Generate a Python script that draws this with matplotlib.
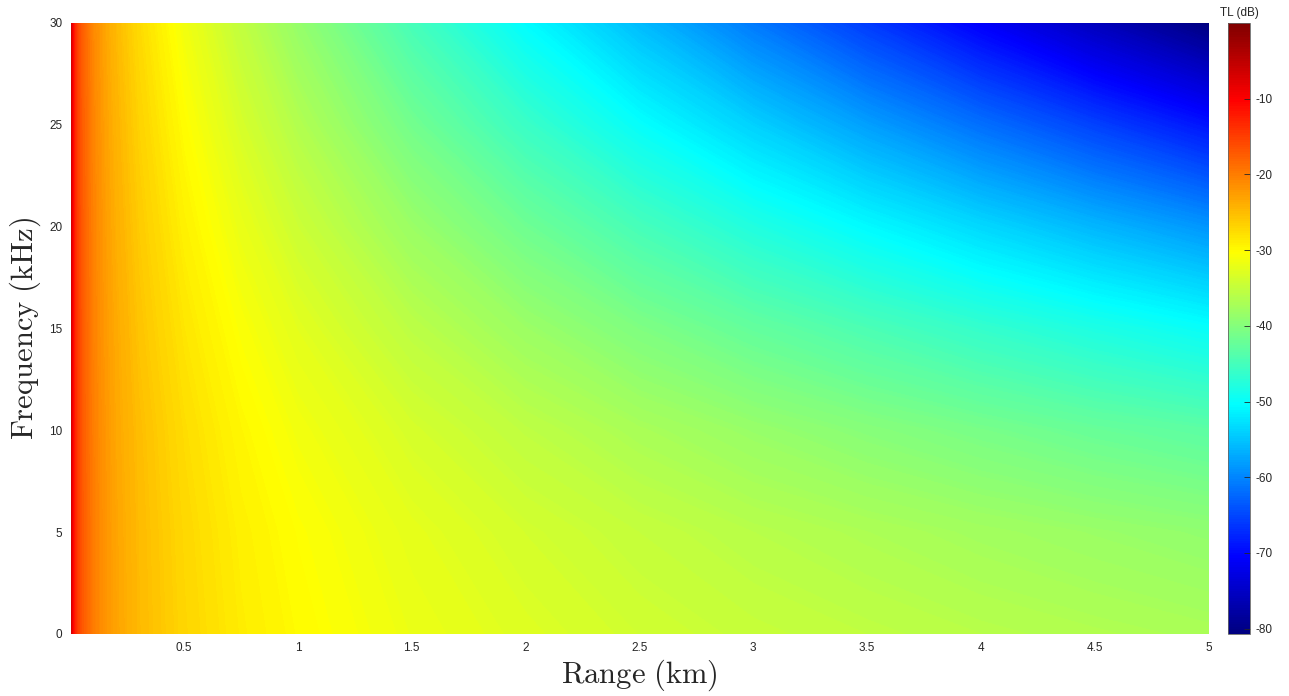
import numpy as np
import matplotlib
matplotlib.use("Agg")
import matplotlib.pyplot as plt
from matplotlib.colors import LinearSegmentedColormap, Normalize
from matplotlib.cm import ScalarMappable
from matplotlib.ticker import FormatStrFormatter

plt.rcParams["font.family"] = ["Liberation Sans", "DejaVu Sans"]
plt.rcParams["mathtext.fontset"] = "cm"
plt.rcParams["axes.unicode_minus"] = False

# range samples (km) and frequency samples (kHz)
range_km = [0.001, 0.003, 0.006, 0.01, 0.02, 0.03, 0.05, 0.1, 0.15, 0.2, 0.3,
            0.5, 0.75, 1, 1.5, 2, 2.5, 3, 3.5, 4, 4.5, 5]
freq_khz = [0, 5, 10, 15, 20, 25, 30]

# transmission loss (dB), one row per frequency
tl_db = [
    [0, -4.8, -7.8, -10.0, -13.0, -14.8, -17.0, -20.0, -21.8, -23.0, -24.8,
     -27.0, -28.8, -30.0, -31.8, -33.0, -34.0, -34.8, -35.4, -36.0, -36.5, -37.0],
    [0, -4.8, -7.8, -10.0, -13.0, -14.8, -17.0, -20.0, -21.8, -23.1, -24.9,
     -27.2, -29.1, -30.4, -32.4, -33.8, -35.0, -36.0, -36.8, -37.6, -38.3, -39.0],
    [0, -4.8, -7.8, -10.0, -13.0, -14.8, -17.1, -20.1, -21.9, -23.3, -25.1,
     -27.6, -29.7, -31.3, -33.6, -35.5, -37.1, -38.5, -39.8, -41.0, -42.2, -43.2],
    [0, -4.8, -7.8, -10.0, -13.1, -14.8, -17.1, -20.3, -22.2, -23.5, -25.6,
     -28.3, -30.7, -32.6, -35.7, -38.2, -40.5, -42.6, -44.5, -46.4, -48.2, -50.0],
    [0, -4.8, -7.8, -10.0, -13.1, -14.9, -17.2, -20.4, -22.4, -23.9, -26.1,
     -29.2, -32.0, -34.4, -38.3, -41.7, -44.9, -47.9, -50.7, -53.5, -56.2, -58.8],
    [0, -4.8, -7.8, -10.1, -13.1, -15.0, -17.3, -20.6, -22.7, -24.3, -26.7,
     -30.2, -33.6, -36.4, -41.4, -45.9, -50.1, -54.1, -58.0, -61.8, -65.5, -69.2],
    [0, -4.8, -7.8, -10.1, -13.2, -15.0, -17.4, -20.9, -23.1, -24.8, -27.4,
     -31.4, -35.3, -38.7, -44.9, -50.5, -55.8, -61.0, -66.0, -71.0, -75.9, -80.7],
]

# MATLAB-style jet
jet = LinearSegmentedColormap.from_list("jet_m", [
    (0.0, (0, 0, 0.5)), (0.125, (0, 0, 1)), (0.375, (0, 1, 1)),
    (0.625, (1, 1, 0)), (0.875, (1, 0, 0)), (1.0, (0.5, 0, 0))], N=256)

tick_col = (0.15, 0.15, 0.15)

fig = plt.figure(figsize=(12.89, 6.96), dpi=100)
ax = fig.add_axes([0.0547, 0.0891, 0.8829, 0.878])
cax = fig.add_axes([0.9527, 0.0891, 0.0170, 0.878])

tl = np.array(tl_db)
norm = Normalize(vmin=tl.min(), vmax=tl.max())
# many thin filled levels -> smooth shading interpolated in dB, not in RGB
levels = np.linspace(tl.min(), tl.max(), 400)
ax.contourf(range_km, freq_khz, tl, levels=levels, cmap=jet, norm=norm,
            rasterized=True)

ax.set_xlim(range_km[0], range_km[-1])
ax.set_ylim(0, 30)
ax.set_xticks([0.5, 1, 1.5, 2, 2.5, 3, 3.5, 4, 4.5, 5])
ax.set_yticks([0, 5, 10, 15, 20, 25, 30])
ax.xaxis.set_major_formatter(FormatStrFormatter("%g"))
ax.tick_params(length=0, labelsize=8.5, labelcolor=tick_col, pad=6)
for s in ax.spines.values():
    s.set_visible(False)

ax.set_xlabel(r"$\mathrm{Range\ (km)}$", fontsize=22, color=tick_col, labelpad=2)
ax.set_ylabel(r"$\mathrm{Frequency\ (kHz)}$", fontsize=22, color=tick_col, labelpad=4)

cb = fig.colorbar(ScalarMappable(norm=norm, cmap=jet), cax=cax)
cb.set_ticks([-80, -70, -60, -50, -40, -30, -20, -10])
cb.ax.tick_params(direction="in", length=4, width=0.6, color=tick_col,
                  labelsize=8.5, labelcolor=tick_col, pad=4)
cb.outline.set_edgecolor((0.4, 0.4, 0.4))
cb.outline.set_linewidth(0.6)
cax.set_title("TL (dB)", fontsize=8.5, color=tick_col, pad=5)

fig.savefig("out.png", dpi=100)
